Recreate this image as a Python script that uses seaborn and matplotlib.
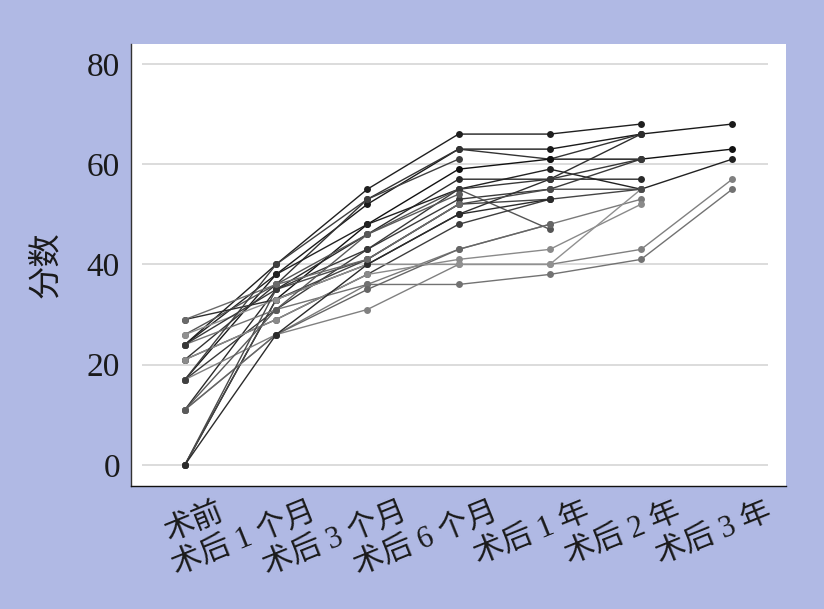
import pandas as pd
import numpy as np
import matplotlib
matplotlib.use('Agg')
import matplotlib.pyplot as plt
import matplotlib.transforms as mtransforms
import seaborn as sns

# time points (x categories)
times = ['术前', '术后 1 个月', '术后 3 个月', '术后 6 个月', '术后 1 年', '术后 2 年', '术后 3 年']

# scores per patient (nan = no follow-up yet)
nan = np.nan
p01 = [24, 40, 55, 66, 66, 68, nan]
p02 = [17, 38, 52, 63, 63, 66, 68]
p03 = [21, 36, 53, 63, 61, 66, nan]
p04 = [0, 33, 48, 59, 61, 61, 63]
p05 = [11, 35, 46, 57, 57, 57, nan]
p06 = [24, 38, 48, 55, 59, 55, 61]
p07 = [17, 31, 43, 53, 55, 61, nan]
p08 = [0, 33, 41, 52, 53, 55, nan]
p09 = [26, 36, 46, 55, 47, nan, nan]
p10 = [29, 33, 40, 50, 57, 66, nan]
p11 = [21, 29, 38, 48, 53, nan, nan]
p12 = [11, 26, 36, 43, 48, 53, nan]
p13 = [24, 31, 36, 36, 38, 41, 55]
p14 = [17, 26, 31, 40, 40, 43, 57]
p15 = [21, 29, 38, 41, 43, 52, nan]
p16 = [11, 26, 35, 43, 48, nan, nan]
p17 = [26, 33, 40, 40, 40, 55, nan]
p18 = [0, 35, 41, 52, 55, 55, nan]
p19 = [24, 35, 43, 55, 57, 61, nan]
p20 = [0, 26, 40, 50, 53, nan, nan]
p21 = [11, 31, 46, 54, nan, nan, nan]
p22 = [29, 36, 41, 52, nan, nan, nan]
p23 = [17, 40, 53, 61, nan, nan, nan]

patients = [p01, p02, p03, p04, p05, p06, p07, p08, p09, p10, p11, p12,
            p13, p14, p15, p16, p17, p18, p19, p20, p21, p22, p23]
greys = ['#1f1f1f', '#1a1a1a', '#333333', '#111111', '#2a2a2a', '#222222',
         '#3a3a3a', '#444444', '#555555', '#2e2e2e', '#3d3d3d', '#7a7a7a',
         '#727272', '#808080', '#8a8a8a', '#666666', '#909090', '#4a4a4a',
         '#383838', '#2b2b2b', '#5a5a5a', '#6a6a6a', '#3f3f3f']

rows = []
for i, vals in enumerate(patients):
    for t, v in enumerate(vals):
        if not np.isnan(v):
            rows.append({'patient': 'P%02d' % (i + 1), 't': t, 'score': v})
df = pd.DataFrame(rows)
palette = {'P%02d' % (i + 1): c for i, c in enumerate(greys)}

bg = '#b0b9e4'
sns.set_style('white')
plt.rcParams['font.family'] = ['Liberation Serif', 'Noto Sans CJK SC', 'DejaVu Sans']

fig = plt.figure(figsize=(8.24, 6.09), dpi=100, facecolor=bg)
ax = fig.add_axes([0.159, 0.202, 0.795, 0.726])
ax.set_facecolor('white')

yticks = [0, 20, 40, 60, 80]
ax.hlines(yticks, -0.47, 6.39, colors='#dcdcdc', linewidth=1.4, zorder=0)

sns.lineplot(data=df, x='t', y='score', hue='patient', palette=palette,
             units='patient', estimator=None, sort=False, marker='o',
             markersize=5, markeredgewidth=0, linewidth=1.0,
             legend=False, ax=ax)

ax.set_xlim(-0.59, 6.59)
ax.set_ylim(-4.2, 84)
ax.set_xticks(range(len(times)))
ax.set_xticklabels(times, fontsize=22, color='#1a1a1a')
ax.set_yticks(yticks)
ax.set_yticklabels([str(v) for v in yticks], fontsize=24, color='#1a1a1a')
ax.tick_params(axis='both', direction='out', length=5, width=0.9, color='#333333')
ax.tick_params(axis='y', pad=3)
ax.tick_params(axis='x', pad=2)

offset = mtransforms.ScaledTranslation(0.33, -0.02, fig.dpi_scale_trans)
for lab in ax.get_xticklabels():
    lab.set_rotation(22)
    lab.set_ha('right')
    lab.set_va('top')
    lab.set_rotation_mode('anchor')
    lab.set_transform(lab.get_transform() + offset)

ax.set_xlabel('')
ax.set_ylabel('分数', fontsize=24, color='#1a1a1a')
ax.yaxis.set_label_coords(-0.105, 0.5)

for s in ['top', 'right']:
    ax.spines[s].set_visible(False)
ax.spines['left'].set_color('#333333')
ax.spines['left'].set_linewidth(1.0)
ax.spines['bottom'].set_color('#111111')
ax.spines['bottom'].set_linewidth(1.0)

fig.savefig('out.png', dpi=100, facecolor=bg)
